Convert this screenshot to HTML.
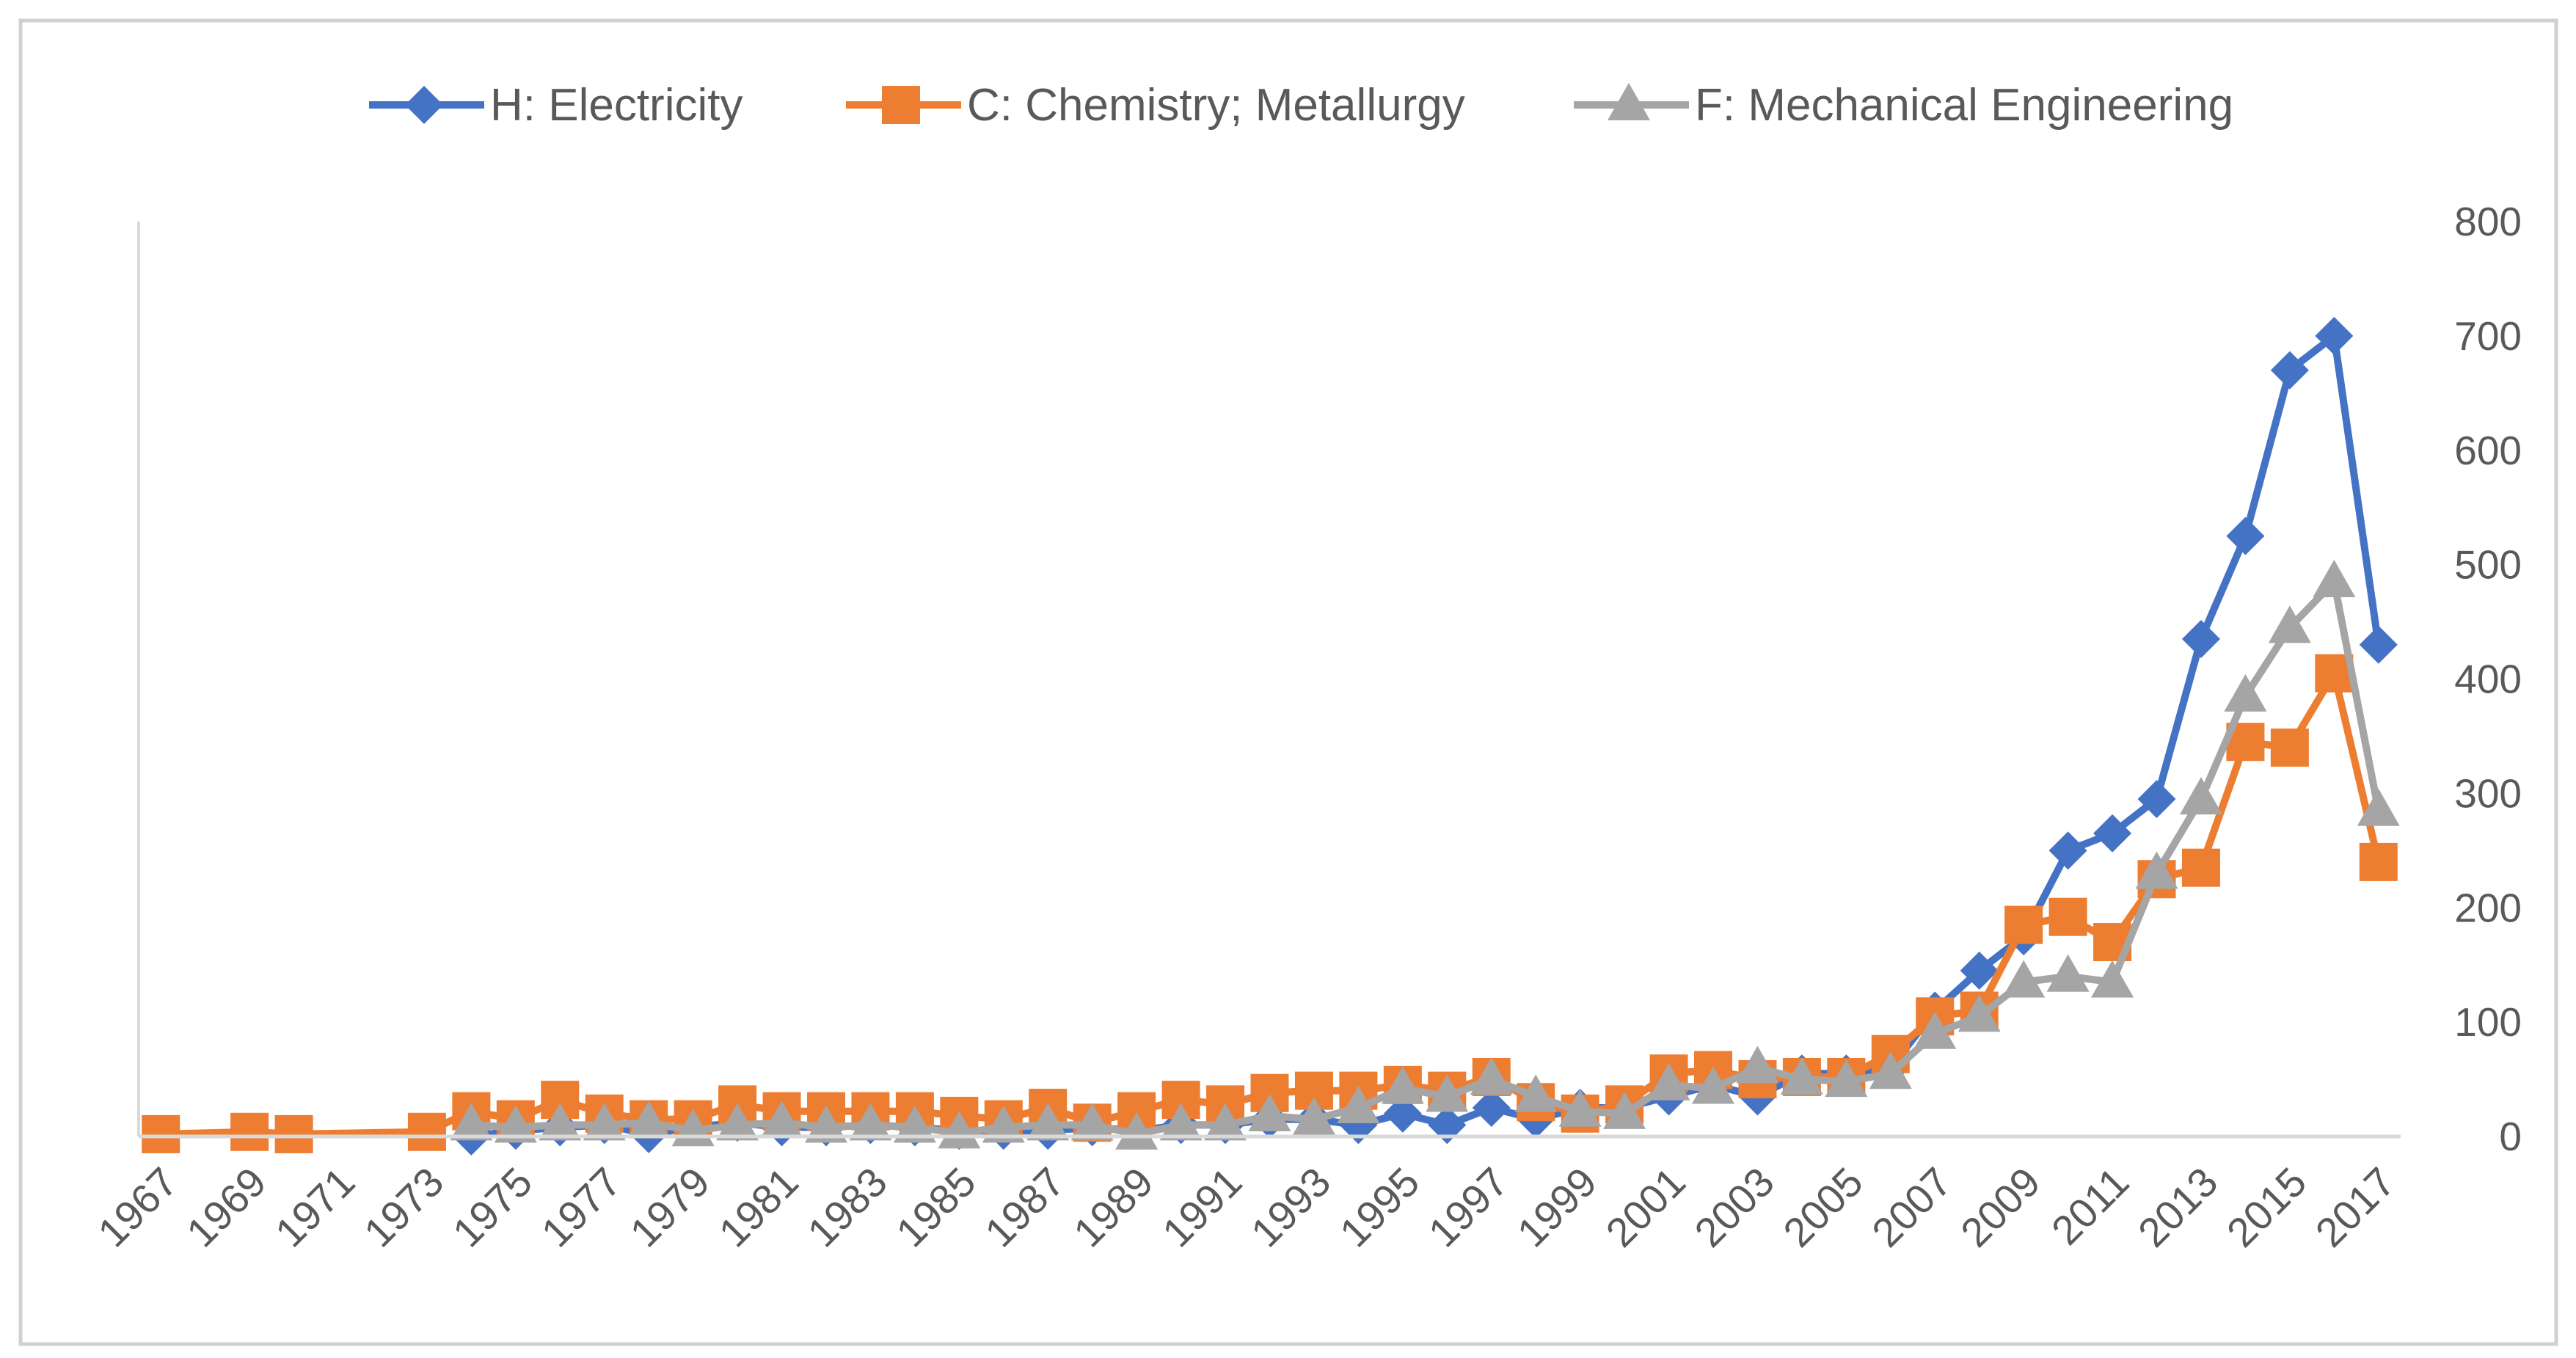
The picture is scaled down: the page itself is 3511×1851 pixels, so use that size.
<!DOCTYPE html>
<html><head><meta charset="utf-8"><style>
html,body{margin:0;padding:0;background:#fff;}
svg{display:block;font-family:"Liberation Sans",sans-serif;}
</style></head><body>
<svg id="chart" width="3511" height="1851" viewBox="0 0 3511 1851" xmlns="http://www.w3.org/2000/svg">
<rect x="28" y="28" width="3456" height="1804" fill="#fff" stroke="#d0d0d0" stroke-width="5"/>
<g id="legend"></g>
<g id="grid"></g>
<g id="series"></g>
<g id="axes"></g>
</svg>
<script>
const years = [];
for (let y = 1967; y <= 2017; y++) years.push(y);
const valuesH = [null,null,null,null,null,null,null,0,5,8,10,2,8,12,8,8,10,8,5,5,5,8,5,10,10,15,15,10,20,10,25,15,25,25,35,45,35,55,55,60,110,145,175,250,265,295,435,525,670,700,430];
const valuesC = [2,null,4,2,null,null,4,22,15,32,20,15,15,28,22,22,22,22,18,15,25,12,22,32,28,38,40,40,45,40,52,30,20,28,55,58,50,52,52,72,105,110,185,192,170,225,235,345,340,405,240];
const valuesF = [null,null,null,null,null,null,null,10,8,10,10,12,5,10,12,8,10,8,3,8,10,10,2,10,10,18,15,25,42,35,50,35,22,20,45,42,60,50,48,55,90,105,135,140,135,230,295,385,445,485,285];
const yTicks = [0,100,200,300,400,500,600,700,800];
const seriesNames = ["H: Electricity","C: Chemistry; Metallurgy","F: Mechanical Engineering"];

const NS = "http://www.w3.org/2000/svg";
const L = 189, R = 3272, B = 1549, T = 302;
const n = years.length, step = (R - L) / n;
const xs = i => L + step * (i + 0.5);
const ys = v => B - (v / 800) * (B - T);
function mk(tag, attrs, parent) {
  const e = document.createElementNS(NS, tag);
  for (const k in attrs) e.setAttribute(k, attrs[k]);
  parent.appendChild(e); return e;
}
const axes = document.getElementById('axes');
const seriesG = document.getElementById('series');
const legend = document.getElementById('legend');

let la = mk('line', {x1: L, y1: T, x2: L, y2: B, stroke: '#d9d9d9', 'stroke-width': 4}, axes);


let xa = mk('line', {x1: L, y1: B, x2: R, y2: B, stroke: '#d9d9d9', 'stroke-width': 5}, axes);



yTicks.forEach(v => {
  const t = mk('text', {x: 3437, y: ys(v) + 19, 'text-anchor': 'end', 'font-size': 55, fill: '#595959'}, axes);
  t.textContent = v;
  
  
});
years.forEach((y, i) => {
  if ((y - 1967) % 2) return;
  const x = xs(i) + 26, yy = B + 66;
  const t = mk('text', {x: x, y: yy, 'text-anchor': 'end', 'font-size': 56, fill: '#595959', transform: `rotate(-45 ${x} ${yy})`}, axes);
  t.textContent = y;
  
  
});

function marker(type, cx, cy, color, parent) {
  let e;
  if (type === 'diamond') e = mk('polygon', {points: `${cx},${cy-26} ${cx+26},${cy} ${cx},${cy+26} ${cx-26},${cy}`, fill: color}, parent);
  else if (type === 'square') e = mk('rect', {x: cx-26, y: cy-26, width: 52, height: 52, fill: color}, parent);
  else e = mk('polygon', {points: `${cx},${cy-30} ${cx+29},${cy+21} ${cx-29},${cy+21}`, fill: color}, parent);
  return e;
}
const defs = [
  {vals: valuesH, color: '#4472c4', m: 'diamond', name: 'electricity'},
  {vals: valuesC, color: '#ed7d31', m: 'square', name: 'chemistry'},
  {vals: valuesF, color: '#a5a5a5', m: 'triangle', name: 'mechanical'}
];
defs.forEach(d => {
  const g = mk('g', {}, seriesG);
  
  
  const pts = [];
  d.vals.forEach((v, i) => { if (v !== null) pts.push([xs(i), ys(v)]); });
  const pl = mk('polyline', {points: pts.map(p => p.join(',')).join(' '), fill: 'none', stroke: d.color, 'stroke-width': 10, 'stroke-linejoin': 'round'}, g);
  
  
  pts.forEach(p => {
    const e = marker(d.m, p[0], p[1], d.color, g);
    
    
  });
});

const legX = [503, 1153, 2145];
defs.forEach((d, i) => {
  const g = mk('g', {}, legend);
  
  
  const x0 = legX[i], y0 = 143;
  mk('line', {x1: x0, y1: y0, x2: x0 + 157, y2: y0, stroke: d.color, 'stroke-width': 10}, g);
  marker(d.m, x0 + 75, y0, d.color, g);
  const t = mk('text', {x: x0 + 165, y: y0 + 21, 'font-size': 62, fill: '#595959'}, g);
  t.textContent = seriesNames[i];
});
</script>
</body></html>
